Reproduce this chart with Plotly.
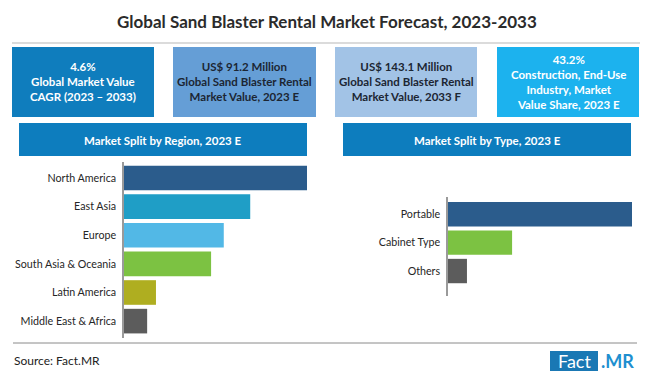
import plotly.graph_objects as go

W, H = 650, 377

title_text = "Global Sand Blaster Rental Market Forecast, 2023-2033"

kpi_texts = [
    "4.6%<br>Global Market Value<br>CAGR (2023 – 2033)",
    "US$ 91.2 Million<br>Global Sand Blaster Rental<br>Market Value, 2023 E",
    "US$ 143.1 Million<br>Global Sand Blaster Rental<br>Market Value, 2033 F",
    "43.2%<br>Construction, End-Use<br>Industry, Market<br>Value Share, 2023 E",
]
kpi_fill = ["#0f7dbd", "#659ed6", "#a2c3e6", "#1cb2ee"]
kpi_font = ["#ffffff", "#1c2633", "#1c2633", "#ffffff"]

region_title = "Market Split by Region, 2023 E"
regions = ["North America", "East Asia", "Europe", "South Asia & Oceania",
           "Latin America", "Middle East & Africa"]
region_share = [33.2, 22.9, 18.1, 15.8, 5.8, 4.2]
region_colors = ["#2b5c8c", "#1f9ec6", "#52b8e6", "#7cc242", "#afae20", "#5c5c5c"]

type_title = "Market Split by Type, 2023 E"
types = ["Portable", "Cabinet Type", "Others"]
type_share = [68.9, 24.0, 7.1]
type_colors = ["#2b5c8c", "#7cc242", "#5c5c5c"]

source_text = "Source: Fact.MR"


def px(x):
    return x / W


def py(y):
    return 1 - y / H


FONT = "Lato, 'Open Sans', sans-serif"

fig = go.Figure()

fig.add_trace(go.Bar(
    x=region_share, y=regions, orientation="h",
    marker=dict(color=region_colors, line=dict(width=0)),
    xaxis="x", yaxis="y", hoverinfo="skip", showlegend=False,
))
fig.add_trace(go.Bar(
    x=type_share, y=types, orientation="h",
    marker=dict(color=type_colors, line=dict(width=0)),
    xaxis="x2", yaxis="y2", hoverinfo="skip", showlegend=False,
))

shapes = []
annotations = []

# title separator
shapes.append(dict(type="line", xref="paper", yref="paper",
                   x0=px(12), x1=px(640), y0=py(43), y1=py(43),
                   line=dict(color="#cfcfcf", width=1.5)))

# KPI boxes
box_x = [(12, 154), (173, 316), (335, 477), (497, 639)]
for (x0, x1), fill, fc, txt in zip(box_x, kpi_fill, kpi_font, kpi_texts):
    shapes.append(dict(type="rect", xref="paper", yref="paper",
                       x0=px(x0), x1=px(x1), y0=py(117), y1=py(47),
                       fillcolor=fill, line=dict(width=0), layer="below"))
    annotations.append(dict(text="<b>" + txt + "</b>", xref="paper", yref="paper",
                            x=px((x0 + x1) / 2), y=py(82), xanchor="center",
                            yanchor="middle", showarrow=False, align="center",
                            font=dict(family=FONT, size=11.5, color=fc)))

# section headers
for (x0, x1), txt in [((19, 307), region_title), ((343, 631), type_title)]:
    shapes.append(dict(type="rect", xref="paper", yref="paper",
                       x0=px(x0), x1=px(x1), y0=py(156), y1=py(123),
                       fillcolor="#0d7dbe", line=dict(width=0), layer="below"))
    annotations.append(dict(text="<b>" + txt + "</b>", xref="paper", yref="paper",
                            x=px((x0 + x1) / 2), y=py(140), xanchor="center",
                            yanchor="middle", showarrow=False,
                            font=dict(family=FONT, size=11.5, color="#ffffff")))

# footer line
shapes.append(dict(type="line", xref="paper", yref="paper",
                   x0=px(13), x1=px(637), y0=py(343), y1=py(343),
                   line=dict(color="#8a8a8a", width=1)))

# title
annotations.append(dict(text="<b>" + title_text + "</b>", xref="paper", yref="paper",
                        x=px(327), y=py(22), xanchor="center", yanchor="middle",
                        showarrow=False,
                        font=dict(family=FONT, size=17, color="#2b2b2b")))

# source
annotations.append(dict(text=source_text, xref="paper", yref="paper",
                        x=px(12), y=py(360), xanchor="left", yanchor="middle",
                        showarrow=False,
                        font=dict(family=FONT, size=12, color="#222222")))

# logo
shapes.append(dict(type="rect", xref="paper", yref="paper",
                   x0=px(550), x1=px(598), y0=py(371), y1=py(351),
                   fillcolor="#1a78b4", line=dict(width=0), layer="below"))
annotations.append(dict(text="Fact", xref="paper", yref="paper",
                        x=px(574), y=py(361), xanchor="center", yanchor="middle",
                        showarrow=False,
                        font=dict(family=FONT, size=18, color="#ffffff")))
annotations.append(dict(text="<b>.MR</b>", xref="paper", yref="paper",
                        x=px(599), y=py(361), xanchor="left", yanchor="middle",
                        showarrow=False,
                        font=dict(family=FONT, size=18, color="#1e8fd0")))

axis_common = dict(showgrid=False, zeroline=False, showticklabels=False,
                   showline=False, fixedrange=True)
yaxis_common = dict(showgrid=False, zeroline=False, showline=True,
                    linecolor="#9a9a9a", linewidth=1.5, ticks="",
                    ticklabelstandoff=4, fixedrange=True,
                    tickfont=dict(family=FONT, size=10.7, color="#262626"))

fig.update_layout(
    width=W, height=H,
    margin=dict(l=0, r=0, t=0, b=0),
    paper_bgcolor="#ffffff", plot_bgcolor="rgba(0,0,0,0)",
    bargap=0.14,
    showlegend=False,
    xaxis=dict(domain=[px(124), px(307)], range=[0, region_share[0]], **axis_common),
    yaxis=dict(domain=[py(338), py(162)], range=[5.59, -0.56], anchor="x",
               **yaxis_common),
    xaxis2=dict(domain=[px(448), px(632)], range=[0, type_share[0]], anchor="y2",
                **axis_common),
    yaxis2=dict(domain=[py(296), py(197)], range=[2.88, -0.61], anchor="x2",
                **yaxis_common),
    shapes=shapes,
    annotations=annotations,
)

fig.write_html("out.html", config={"displayModeBar": False},
               post_script="document.body.style.margin='0px';document.body.style.overflow='hidden';")
